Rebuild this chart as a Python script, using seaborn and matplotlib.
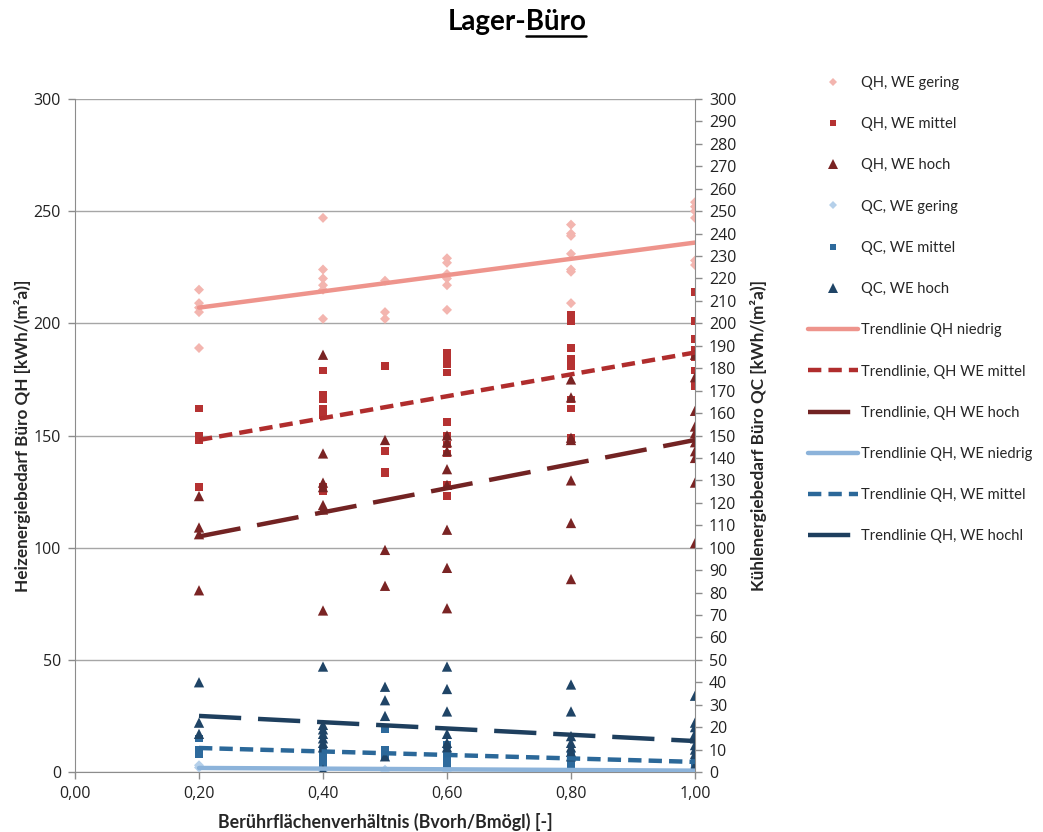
import numpy as np
import pandas as pd
import matplotlib
matplotlib.use("Agg")
import matplotlib.pyplot as plt
import seaborn as sns
from matplotlib.lines import Line2D
from matplotlib.ticker import FuncFormatter, MultipleLocator

# x-Stufen des Berührflächenverhältnisses
x_levels = [0.2, 0.4, 0.5, 0.6, 0.8, 1.0]

# Heizenergiebedarf QH (linke Achse), je x-Stufe eine Liste
qh_gering = [[215, 209, 207, 205, 189],
             [247, 224, 220, 217, 215, 202],
             [219, 205, 202],
             [229, 227, 222, 220, 217, 206],
             [244, 240, 239, 231, 224, 223, 209],
             [254, 252, 250, 247, 228, 226]]
qh_mittel = [[162, 150, 148, 127],
             [179, 168, 166, 162, 160, 159, 127, 125],
             [181, 143, 134, 133],
             [187, 185, 182, 178, 156, 150, 146, 142, 128, 123],
             [204, 201, 189, 184, 181, 166, 162, 149],
             [214, 201, 193, 188, 185, 179, 172]]
qh_hoch = [[123, 109, 106, 81],
           [186, 142, 129, 127, 119, 117, 72],
           [148, 99, 83],
           [150, 147, 143, 135, 128, 108, 91, 73],
           [175, 167, 149, 148, 130, 111, 86],
           [186, 176, 161, 154, 151, 147, 143, 140, 129, 102]]

# Kühlenergiebedarf QC (rechte Achse)
qc_gering = [[3, 2], [1, 0], [1, 0], [1, 0], [1, 0], [2, 0]]
qc_mittel = [[15, 10, 8], [10, 7, 4], [19, 10, 7], [12, 8, 5, 2], [8, 5, 3], [5, 3, 2]]
qc_hoch = [[40, 22, 17],
           [47, 21, 19, 17, 15, 13, 11, 1],
           [38, 32, 25, 7],
           [47, 37, 27, 17, 13, 11],
           [39, 27, 16, 13, 11, 9, 7],
           [34, 22, 20, 17, 15, 12, 10, 8, 3]]

# Trendlinien (Endpunkte)
trend_x = [0.2, 1.0]
trend_qh_niedrig = [207, 236]
trend_qh_mittel = [148, 187]
trend_qh_hoch = [105, 148]
trend_qc_niedrig = [1.8, 0.6]
trend_qc_mittel = [10.7, 4.5]
trend_qc_hoch = [25, 13.8]

sns.set_style("white")
plt.rcParams['font.family'] = ['Lato', 'DejaVu Sans']


def to_frame(series):
    rows = [(x, v) for x, vals in zip(x_levels, series) for v in vals]
    return pd.DataFrame(rows, columns=["x", "y"])


fig = plt.figure(figsize=(10.43, 8.32), dpi=100)
ax = fig.add_axes([75 / 1043, 1 - 772 / 832, 620 / 1043, 673 / 832])
ax2 = ax.twinx()

c_qh_g, c_qh_m, c_qh_h = "#F3B5AF", "#B53232", "#7A2424"
c_qc_g, c_qc_m, c_qc_h = "#B5D0EA", "#2E6A9C", "#1F4466"
t_qh_g, t_qh_m, t_qh_h = "#EE948C", "#B02D2D", "#722323"
t_qc_g, t_qc_m, t_qc_h = "#8CB3DA", "#2B6899", "#1E3F5E"

scatter_specs = [
    (ax, qh_gering, c_qh_g, "D", 26),
    (ax, qh_mittel, c_qh_m, "s", 30),
    (ax, qh_hoch, c_qh_h, "^", 55),
    (ax2, qc_gering, c_qc_g, "D", 26),
    (ax2, qc_mittel, c_qc_m, "s", 30),
    (ax2, qc_hoch, c_qc_h, "^", 55),
]
for a, series, col, mk, size in scatter_specs:
    sns.scatterplot(data=to_frame(series), x="x", y="y", ax=a, color=col,
                    marker=mk, s=size, edgecolor="none", zorder=3, legend=False)

short_dash = (3, 1.6)
long_dash = (9.5, 3.8)
trend_specs = [
    (ax, trend_qh_niedrig, t_qh_g, None),
    (ax, trend_qh_mittel, t_qh_m, short_dash),
    (ax, trend_qh_hoch, t_qh_h, long_dash),
    (ax2, trend_qc_niedrig, t_qc_g, None),
    (ax2, trend_qc_mittel, t_qc_m, short_dash),
    (ax2, trend_qc_hoch, t_qc_h, long_dash),
]
for a, vals, col, dash in trend_specs:
    sns.lineplot(x=trend_x, y=vals, ax=a, color=col, lw=3.2, zorder=4)
    if dash is not None:
        a.lines[-1].set_dashes(dash)

for a in (ax, ax2):
    a.set_xlim(0, 1.0)
    a.set_ylim(0, 300)
ax.xaxis.set_major_locator(MultipleLocator(0.2))
ax.xaxis.set_major_formatter(FuncFormatter(lambda v, p: f"{v:.2f}".replace(".", ",")))
ax.yaxis.set_major_locator(MultipleLocator(50))
ax2.yaxis.set_major_locator(MultipleLocator(10))

grid_col = "#A6A6A6"
ax.grid(axis="y", color=grid_col, lw=1)
ax.grid(axis="x", visible=False)
ax2.grid(False)
ax.set_axisbelow(True)
for a in (ax, ax2):
    a.spines["top"].set_visible(False)
ax.spines["right"].set_visible(False)
ax2.spines["left"].set_visible(False)
ax2.spines["bottom"].set_visible(False)
for s in ("left", "bottom"):
    ax.spines[s].set_color("#8C8C8C")
ax2.spines["right"].set_color("#8C8C8C")

tick_family = ["Open Sans", "DejaVu Sans"]
ax.tick_params(axis="both", direction="out", length=5, width=1, color="#8C8C8C",
               left=True, bottom=True, pad=5)
ax2.tick_params(axis="y", direction="out", length=5, width=1, color="#8C8C8C",
                right=True, pad=5)
for lab in ax.get_xticklabels() + ax.get_yticklabels() + ax2.get_yticklabels():
    lab.set_fontfamily(tick_family)
    lab.set_fontsize(11.5)
    lab.set_color("#222222")

ax.set_xlabel("Berührflächenverhältnis (Bvorh/Bmögl) [-]", fontsize=12.8,
              fontweight="bold", labelpad=8)
ax.set_ylabel("Heizenergiebedarf Büro QH [kWh/(m²a)]", fontsize=12.3,
              fontweight="bold", labelpad=2)
ax2.set_ylabel("Kühlenergiebedarf Büro QC [kWh/(m²a)]", fontsize=12.3,
               fontweight="bold", labelpad=10)

# Titel mit unterstrichenem "Büro"
title = fig.text(517 / 1043, 1 - 22 / 832, "Lager-Büro", ha="center", va="center",
                 fontsize=20, fontweight="bold", color="black")
fig.canvas.draw()
renderer = fig.canvas.get_renderer()
bb = title.get_window_extent(renderer)
probe = fig.text(0, 0, "Lager-", fontsize=20, fontweight="bold")
pw = probe.get_window_extent(renderer).width
probe.remove()
inv = fig.transFigure.inverted()
x0 = inv.transform((bb.x0 + pw, bb.y0))[0]
x1 = inv.transform((bb.x1, bb.y0))[0]
yu = inv.transform((0, bb.y0 - 1))[1]
fig.add_artist(Line2D([x0, x1], [yu, yu], color="black", lw=1.8))

handles = [
    Line2D([], [], ls="none", marker="D", color=c_qh_g, markersize=4.5, markeredgewidth=0),
    Line2D([], [], ls="none", marker="s", color=c_qh_m, markersize=5, markeredgewidth=0),
    Line2D([], [], ls="none", marker="^", color=c_qh_h, markersize=7, markeredgewidth=0),
    Line2D([], [], ls="none", marker="D", color=c_qc_g, markersize=4.5, markeredgewidth=0),
    Line2D([], [], ls="none", marker="s", color=c_qc_m, markersize=5, markeredgewidth=0),
    Line2D([], [], ls="none", marker="^", color=c_qc_h, markersize=7, markeredgewidth=0),
    Line2D([], [], color=t_qh_g, lw=3.2),
    Line2D([], [], color=t_qh_m, lw=3.2, dashes=short_dash),
    Line2D([], [], color=t_qh_h, lw=3.2, dashes=long_dash),
    Line2D([], [], color=t_qc_g, lw=3.2),
    Line2D([], [], color=t_qc_m, lw=3.2, dashes=short_dash),
    Line2D([], [], color=t_qc_h, lw=3.2, dashes=long_dash),
]
labels = ["QH, WE gering", "QH, WE mittel", "QH, WE hoch",
          "QC, WE gering", "QC, WE mittel", "QC, WE hoch",
          "Trendlinie QH niedrig", "Trendlinie, QH WE mittel", "Trendlinie, QH WE hoch",
          "Trendlinie QH, WE niedrig", "Trendlinie QH, WE mittel", "Trendlinie QH, WE hochl"]
fig.legend(handles, labels, loc="upper left", bbox_to_anchor=(802 / 1043, 1 - 70 / 832),
           frameon=False, fontsize=10.6, labelspacing=1.85, handlelength=3.4,
           handletextpad=0.2, borderaxespad=0)

fig.savefig("out.png", dpi=100)
